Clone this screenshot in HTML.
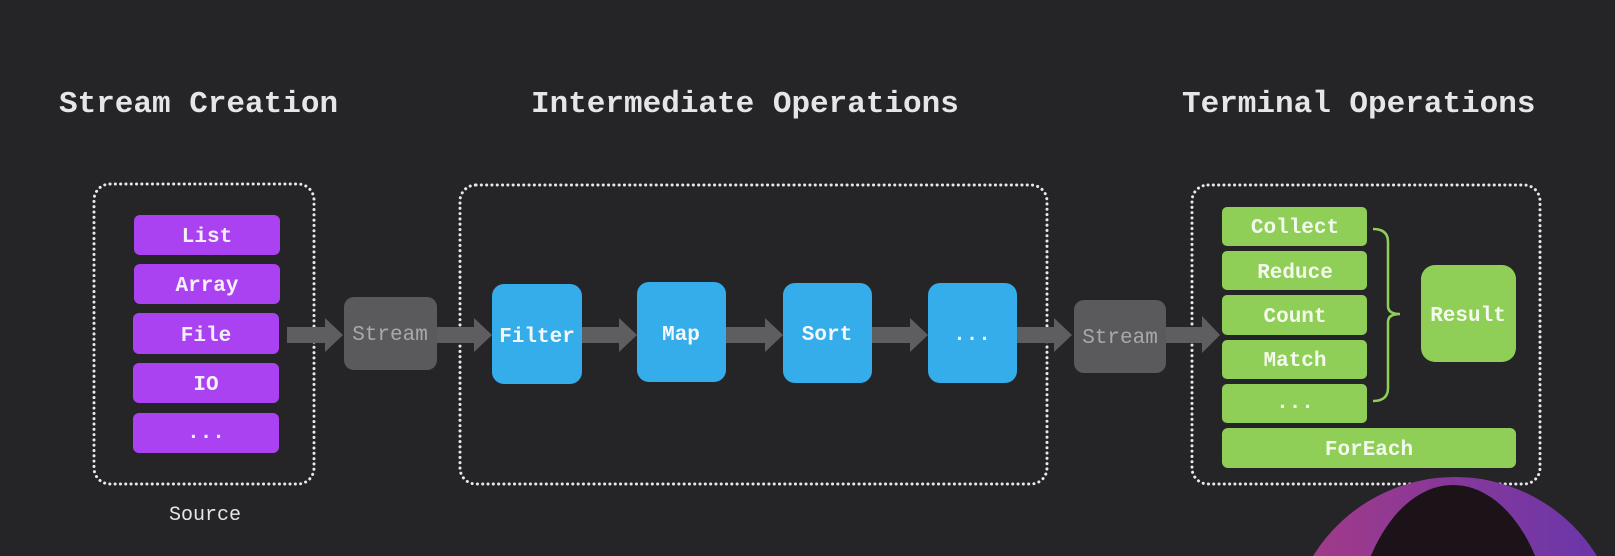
<!DOCTYPE html>
<html><head><meta charset="utf-8"><style>
html,body{margin:0;padding:0;background:#252427;width:1615px;height:556px;overflow:hidden;}
svg{display:block;overflow:hidden;}
text{font-family:"Liberation Mono","DejaVu Sans Mono",monospace;}
</style></head><body>
<svg width="1615" height="556" viewBox="0 0 1615 556" xmlns="http://www.w3.org/2000/svg">
<defs>
<linearGradient id="ring" x1="0" y1="0" x2="1" y2="0">
<stop offset="0" stop-color="#a63a86"/><stop offset="1" stop-color="#6536ad"/>
</linearGradient>
<clipPath id="c"><rect width="1615" height="556"/></clipPath>
</defs>
<rect width="1615" height="556" fill="#252427"/>
<g font-size="31" font-weight="bold" fill="#e6e6e8">
<text x="59" y="112">Stream Creation</text>
<text x="531" y="112">Intermediate Operations</text>
<text x="1182" y="112">Terminal Operations</text>
</g>
<g fill="none" stroke="#e8e8e8" stroke-width="3" stroke-dasharray="0.1 5.2" stroke-linecap="round">
<rect x="94" y="184" width="220" height="300" rx="16"/>
<rect x="460" y="185" width="587" height="299" rx="16"/>
<rect x="1192" y="185" width="348" height="299" rx="16"/>
</g>
<g fill="#5e5d5f">
<path d="M287 327H325V318L343 335L325 352V343H287Z"/>
<path d="M437 327H474V318L492 335L474 352V343H437Z"/>
<path d="M582 327H619V318L637 335L619 352V343H582Z"/>
<path d="M726 327H765V318L783 335L765 352V343H726Z"/>
<path d="M872 327H910V318L928 335L910 352V343H872Z"/>
<path d="M1017 327H1054V318L1072 335L1054 352V343H1017Z"/>
<path d="M1166 327H1202V316L1220 335L1202 353V343H1166Z"/>
</g>
<g fill="#ab42f2">
<rect x="134" y="215" width="146" height="40" rx="6"/>
<rect x="134" y="264" width="146" height="40" rx="6"/>
<rect x="133" y="313" width="146" height="41" rx="6"/>
<rect x="133" y="363" width="146" height="40" rx="6"/>
<rect x="133" y="413" width="146" height="40" rx="6"/>
</g>
<g font-size="21" font-weight="bold" fill="#f4f0f8" text-anchor="middle">
<text x="207" y="242">List</text>
<text x="207" y="291">Array</text>
<text x="206" y="341">File</text>
<text x="206" y="390">IO</text>
<text x="206" y="438">...</text>
</g>
<text x="205" y="520" font-size="20" fill="#e6e6e8" text-anchor="middle">Source</text>
<rect x="344" y="297" width="93" height="73" rx="10" fill="#5a595b"/>
<rect x="1074" y="300" width="92" height="73" rx="10" fill="#5a595b"/>
<g font-size="21" fill="#a9a9ab" text-anchor="middle">
<text x="390" y="340">Stream</text>
<text x="1120" y="343">Stream</text>
</g>
<g fill="#34adea">
<rect x="492" y="284" width="90" height="100" rx="12"/>
<rect x="637" y="282" width="89" height="100" rx="12"/>
<rect x="783" y="283" width="89" height="100" rx="12"/>
<rect x="928" y="283" width="89" height="100" rx="12"/>
</g>
<g font-size="21" font-weight="bold" fill="#f4f8fc" text-anchor="middle">
<text x="537" y="342">Filter</text>
<text x="681" y="340">Map</text>
<text x="827" y="340">Sort</text>
<text x="972" y="340">...</text>
</g>
<g fill="#8fcf58">
<rect x="1222" y="207" width="145" height="39" rx="5"/>
<rect x="1222" y="251" width="145" height="39" rx="5"/>
<rect x="1222" y="295" width="145" height="40" rx="5"/>
<rect x="1222" y="340" width="145" height="39" rx="5"/>
<rect x="1222" y="384" width="145" height="39" rx="5"/>
<rect x="1222" y="428" width="294" height="40" rx="6"/>
<rect x="1421" y="265" width="95" height="97" rx="14"/>
</g>
<g font-size="21" font-weight="bold" fill="#f4faee" text-anchor="middle">
<text x="1295" y="233">Collect</text>
<text x="1295" y="278">Reduce</text>
<text x="1295" y="322">Count</text>
<text x="1295" y="366">Match</text>
<text x="1295" y="408">...</text>
<text x="1369" y="455">ForEach</text>
<text x="1468" y="321">Result</text>
</g>
<path d="M1373 229Q1388 229 1388 242V306Q1388 314 1400 314Q1388 314 1388 322V388Q1388 401 1373 401" fill="none" stroke="#8fcf58" stroke-width="2.5"/>
<g clip-path="url(#c)">
<circle cx="1455" cy="644" r="167" fill="url(#ring)"/>
<ellipse cx="1453" cy="650" rx="100" ry="165" fill="#1b1318"/>
</g>
</svg>
</body></html>
